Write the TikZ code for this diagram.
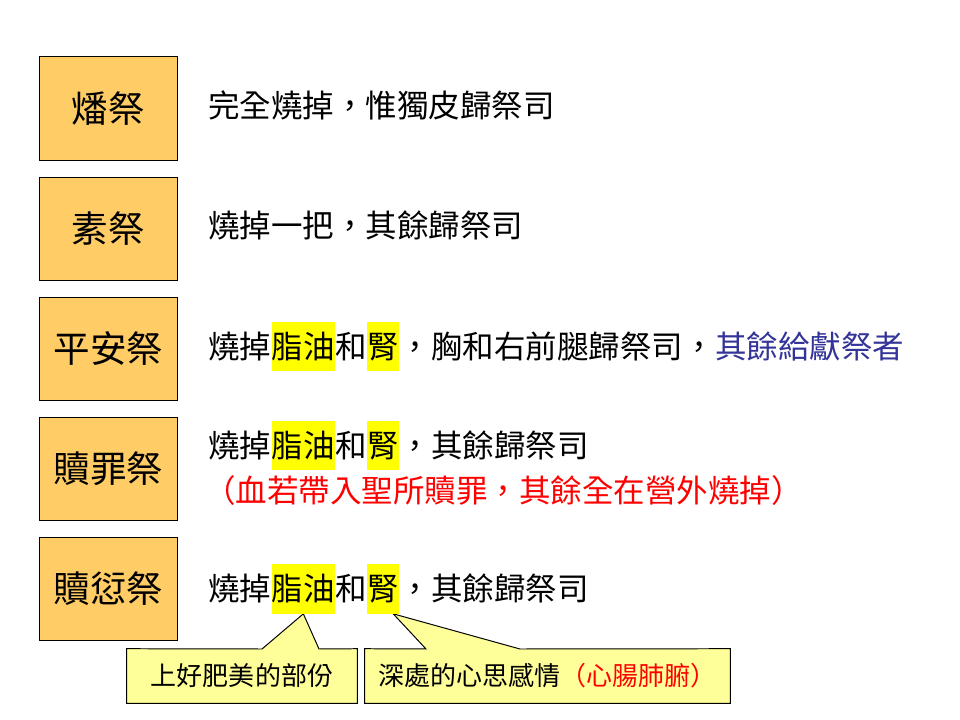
\documentclass[tikz,border=0pt]{standalone}
\usepackage{fontspec}
\setmainfont{Noto Sans CJK TC}
\usetikzlibrary{positioning, backgrounds}
\definecolor{boxorange}{HTML}{FFCC66}
\definecolor{noteyellow}{HTML}{FFFF99}
\definecolor{marker}{HTML}{FFFF00}
\definecolor{giverblue}{HTML}{333399}
\tikzstyle{rect} = [rectangle, minimum width=3.425cm, minimum height=2.575cm, text centered, draw=black, fill=boxorange, line width=0.7pt, font=\fontsize{26}{30}\selectfont]
\tikzstyle{txt} = [rectangle, inner sep=0pt, text height=19.7pt, text depth=2.7pt, font=\fontsize{22.4}{26}\selectfont]
\tikzstyle{hl} = [txt, fill=marker, inner ysep=0.22cm]
\tikzstyle{note} = [rectangle, inner sep=0pt, minimum width=5.75cm, minimum height=1.35cm, font=\fontsize{18.5}{22}\selectfont]
\tikzstyle{bubble} = [draw=black, fill=noteyellow, line width=0.7pt]

\begin{document}
\begin{tikzpicture}[x=0.025cm, y=-0.025cm, node distance=0.4cm]
    \useasboundingbox (0,0) rectangle (960,720);
    % offering boxes
    \node (b1) [rect] at (108.5,108.5) {燔祭};
    \node (b2) [rect, below=of b1] {素祭};
    \node (b3) [rect, below=of b2] {平安祭};
    \node (b4) [rect, below=of b3] {贖罪祭};
    \node (b5) [rect, below=of b4] {贖愆祭};
    % what is burnt
    \node (t1) [txt, anchor=west] at (208,106) {完全燒掉，惟獨皮歸祭司};
    \node (t2) [txt, anchor=west] at (208,226) {燒掉一把，其餘歸祭司};
    \node (t3a) [txt, anchor=west] at (208,346.5) {燒掉};
    \node (t3b) [hl, right=0pt of t3a] {脂油};
    \node (t3c) [txt, right=0pt of t3b] {和};
    \node (t3d) [hl, right=0pt of t3c] {腎};
    \node (t3e) [txt, right=0pt of t3d] {，胸和右前腿歸祭司，};
    \node (t3f) [txt, right=0pt of t3e, text=giverblue] {其餘給獻祭者};
    \node (t4a) [txt, anchor=west] at (208,445.5) {燒掉};
    \node (t4b) [hl, right=0pt of t4a] {脂油};
    \node (t4c) [txt, right=0pt of t4b] {和};
    \node (t4d) [hl, right=0pt of t4c] {腎};
    \node (t4e) [txt, right=0pt of t4d] {，其餘歸祭司};
    \node (t4f) [txt, anchor=west, text=red] at (204,491) {（血若帶入聖所贖罪，其餘全在營外燒掉）};
    \node (t5a) [txt, anchor=west] at (208,589) {燒掉};
    \node (t5b) [hl, right=0pt of t5a] {脂油};
    \node (t5c) [txt, right=0pt of t5b] {和};
    \node (t5d) [hl, right=0pt of t5c] {腎};
    \node (t5e) [txt, right=0pt of t5d] {，其餘歸祭司};
    % notes
    \node (c1) [note] at (242,676) {上好肥美的部份};
    \node (c2) [note, minimum width=9.125cm] at (547.5,676) {深處的心思感情\textcolor{red}{（心腸肺腑）}};
    \begin{scope}[on background layer]
        \draw [bubble] (c1.south west) -- (c1.north west) -- (262,649) -- (t5b.south) -- (319,649) -- (c1.north east) -- (c1.south east) -- cycle;
        \draw [bubble] (c2.south west) -- (c2.north west) -- (426,649) -- ([xshift=-0.15cm]t5d.south east) -- (520,649) -- (c2.north east) -- (c2.south east) -- cycle;
    \end{scope}
\end{tikzpicture}
\end{document}
